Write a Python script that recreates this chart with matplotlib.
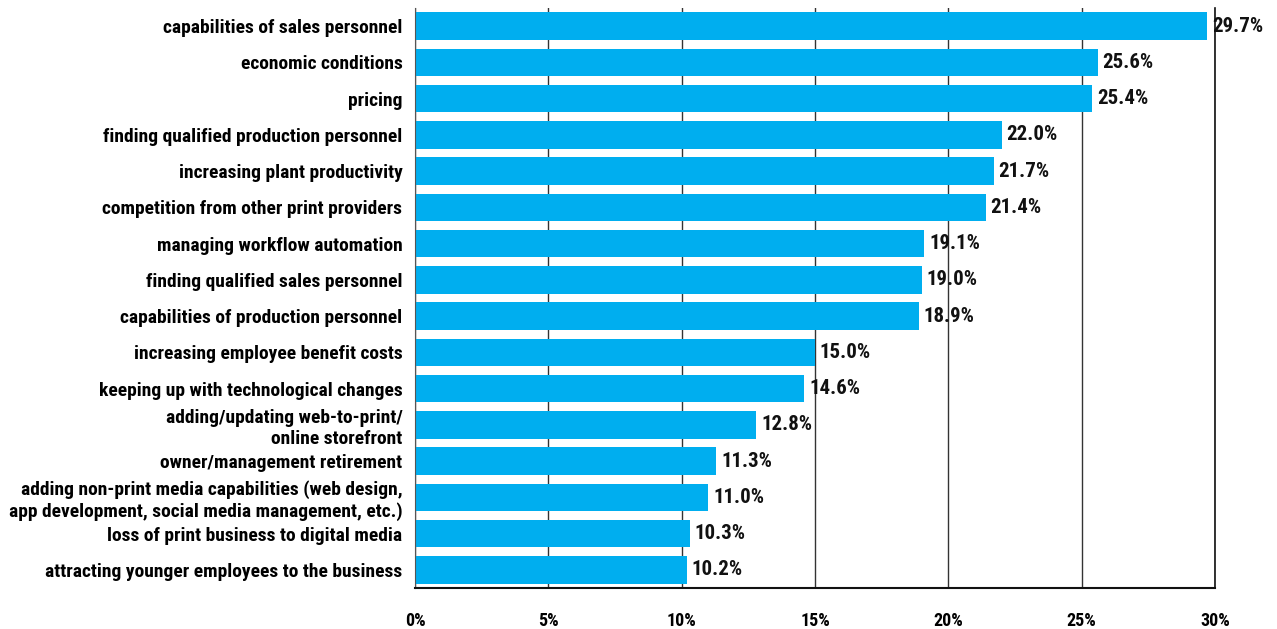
import matplotlib.pyplot as plt
from matplotlib import font_manager
from matplotlib.ticker import FuncFormatter

categories = [
    "capabilities of sales personnel",
    "economic conditions",
    "pricing",
    "finding qualified production personnel",
    "increasing plant productivity",
    "competition from other print providers",
    "managing workflow automation",
    "finding qualified sales personnel",
    "capabilities of production personnel",
    "increasing employee benefit costs",
    "keeping up with technological changes",
    "adding/updating web-to-print/\nonline storefront",
    "owner/management retirement",
    "adding non-print media capabilities (web design,\napp development, social media management, etc.)",
    "loss of print business to digital media",
    "attracting younger employees to the business",
]
values = [29.7, 25.6, 25.4, 22.0, 21.7, 21.4, 19.1, 19.0, 18.9,
          15.0, 14.6, 12.8, 11.3, 11.0, 10.3, 10.2]
xticks = [0, 5, 10, 15, 20, 25, 30]


def pick_font():
    # look for a narrow / condensed bold face, otherwise plain Liberation Sans bold
    fonts = font_manager.fontManager.ttflist
    prefs = ["liberationsansnarrow-bold", "robotocondensed-bold",
             "opensanscondensed-bold", "dejavusanscondensed-bold"]
    for p in prefs:
        for f in fonts:
            if p in f.fname.lower().replace(" ", "").replace("_", ""):
                return font_manager.FontProperties(fname=f.fname), True
    for f in fonts:
        n = f.fname.lower()
        if ("condensed" in n or "narrow" in n) and "bold" in n and "italic" not in n:
            return font_manager.FontProperties(fname=f.fname), True
    return font_manager.FontProperties(family="Liberation Sans", weight="bold"), False


fp, narrow = pick_font()
scale = 1.0 if narrow else 0.86

fig = plt.figure(figsize=(12.77, 6.29), dpi=100)
ax = fig.add_axes([415 / 1277, 1 - 588 / 629, 800 / 1277, 580 / 629])

pos = list(range(len(categories)))
ax.barh(pos, values, height=0.76, color="#00AEEF", zorder=2)

for p, v in zip(pos, values):
    ax.text(v + 0.18, p, f"{v:.1f}%", va="center", ha="left",
            fontproperties=fp, fontsize=15 * scale, color="#111111", zorder=3)

ax.set_xlim(0, 30)
ax.set_ylim(len(categories) - 0.5, -0.5)
ax.set_xticks(xticks)
ax.xaxis.set_major_formatter(FuncFormatter(lambda x, _: f"{x:.0f}%"))
ax.set_yticks(pos)
ax.set_yticklabels(categories, fontproperties=fp, fontsize=14 * scale, linespacing=1.2)
for t in ax.get_xticklabels():
    t.set_fontproperties(fp)
    t.set_fontsize(13 * scale)
ax.tick_params(axis="y", length=0, pad=9)
ax.tick_params(axis="x", length=0, pad=17)

ax.grid(axis="x", color="#333333", linewidth=1, zorder=0)
ax.spines["top"].set_visible(False)
ax.spines["right"].set_color("#111111")
ax.spines["right"].set_linewidth(1.2)
ax.spines["left"].set_color("#555555")
ax.spines["bottom"].set_color("#111111")
ax.spines["bottom"].set_linewidth(1.5)

plt.savefig("out.png", dpi=100)
